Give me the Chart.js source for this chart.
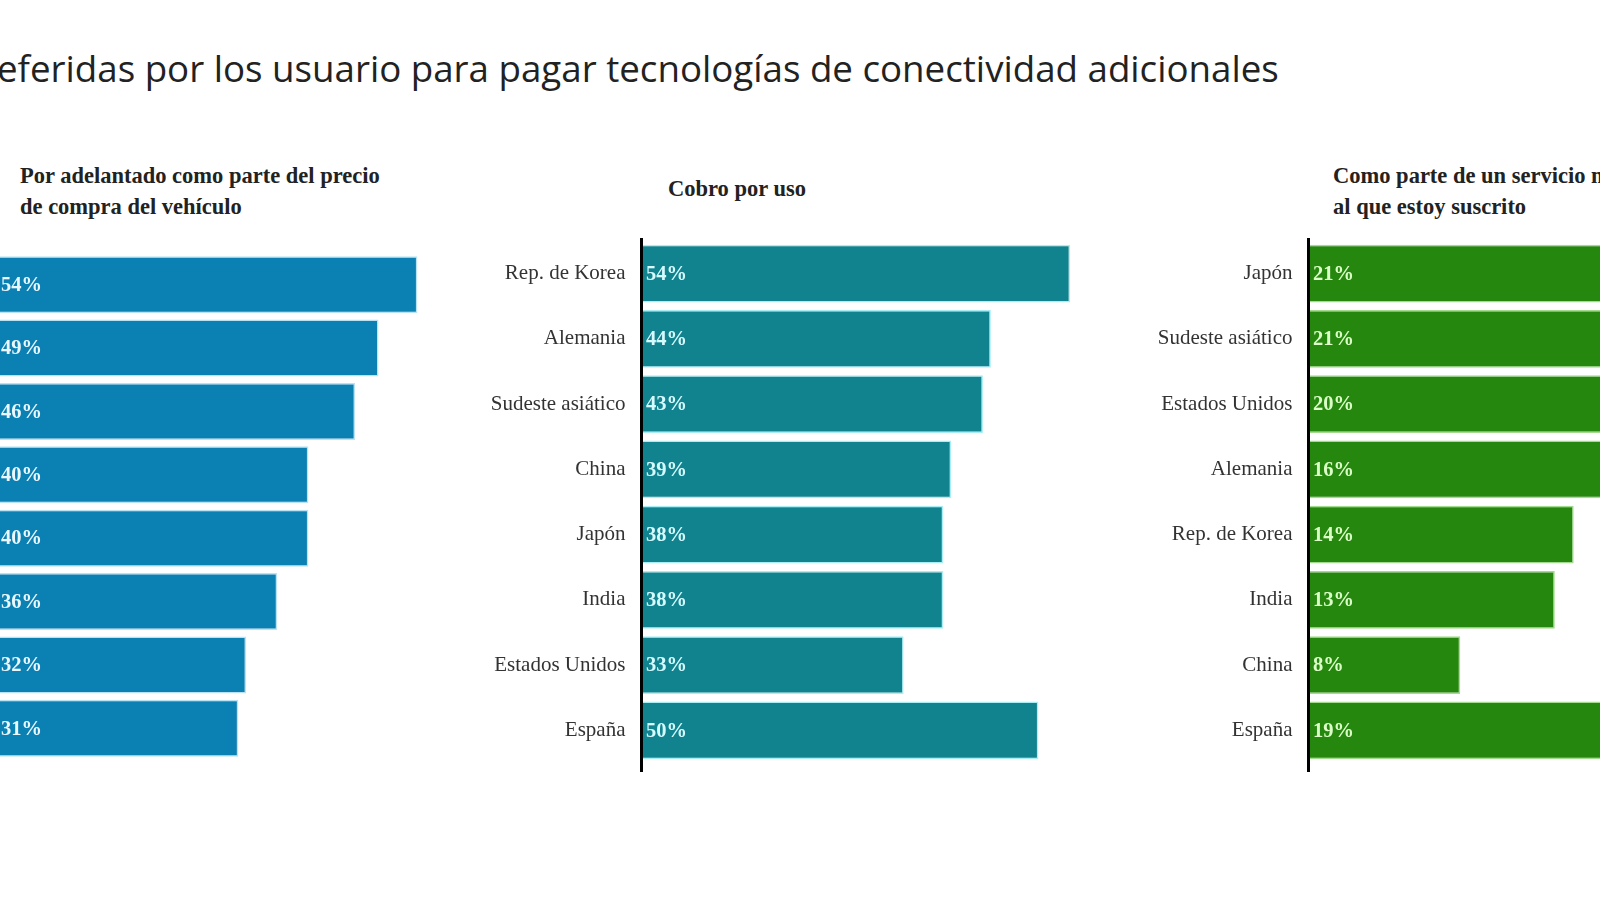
<!DOCTYPE html>
<html>
<head>
<meta charset="utf-8">
<script src="https://cdn.jsdelivr.net/npm/chart.js@4/dist/chart.umd.min.js"></script>
<style>
  html, body { margin:0; padding:0; background:#fff; }
  body { width:1600px; height:900px; overflow:hidden; position:relative; }
  #title { position:absolute; left:-3px; top:44px; font-family:"Open Sans", sans-serif; font-size:36.7px; color:#222; white-space:nowrap; line-height:48px; }
  #title .cut { position:absolute; right:100%; top:0; }
  .hdr { position:absolute; font-family:"Liberation Serif", "Times New Roman", serif; font-weight:bold; font-size:22.5px; line-height:31px; color:#222; white-space:nowrap; }
  canvas { position:absolute; }
</style>
</head>
<body>
<div id="title"><span class="cut">Formas de pago pr</span>eferidas por los usuario para pagar tecnologías de conectividad adicionales</div>
<div class="hdr" id="h1" style="left:20px; top:160px;">Por adelantado como parte del precio<br>de compra del vehículo</div>
<div class="hdr" id="h2" style="left:668px; top:173px;">Cobro por uso</div>
<div class="hdr" id="h3" style="left:1333px; top:160px;">Como parte de un servicio móvil<br>al que estoy suscrito</div>

<canvas id="c1" width="636" height="527" style="left:-203px; top:243px;"></canvas>
<canvas id="c2" width="644" height="542" style="left:442px; top:231px;"></canvas>
<canvas id="c3" width="633" height="542" style="left:1109px; top:231px;"></canvas>

<script>
// Panel 1: Por adelantado como parte del precio de compra del vehículo
const categories1 = ["China", "India", "Estados Unidos", "Japón", "Alemania", "Sudeste asiático", "Rep. de Korea", "España"];
const values1 = [54, 49, 46, 40, 40, 36, 32, 31];

// Panel 2: Cobro por uso
const categories2 = ["Rep. de Korea", "Alemania", "Sudeste asiático", "China", "Japón", "India", "Estados Unidos", "España"];
const values2 = [54, 44, 43, 39, 38, 38, 33, 50];

// Panel 3: Como parte de un servicio móvil al que estoy suscrito
const categories3 = ["Japón", "Sudeste asiático", "Estados Unidos", "Alemania", "Rep. de Korea", "India", "China", "España"];
const values3 = [21, 21, 20, 16, 14, 13, 8, 19];

const barLabels = {
  id: 'barLabels',
  afterDatasetsDraw(chart, args, opts) {
    const ctx = chart.ctx;
    const meta = chart.getDatasetMeta(0);
    const data = chart.data.datasets[0].data;
    ctx.save();
    ctx.font = opts.font;
    ctx.fillStyle = opts.color;
    ctx.textAlign = 'left';
    ctx.textBaseline = 'middle';
    meta.data.forEach((bar, i) => {
      ctx.fillText(data[i] + '%', bar.base + 4, bar.y + 1);
    });
    ctx.restore();
  }
};

// Vertical baseline at value 0, slightly longer than the category band
const zeroLine = {
  id: 'zeroLine',
  afterDatasetsDraw(chart, args, opts) {
    const ctx = chart.ctx;
    const x = Math.round(chart.scales.x.getPixelForValue(0)) - 0.5;
    const area = chart.chartArea;
    ctx.save();
    ctx.strokeStyle = '#000';
    ctx.lineWidth = 3;
    ctx.beginPath();
    ctx.moveTo(x, area.top - opts.extendTop);
    ctx.lineTo(x, area.bottom + opts.extendBottom);
    ctx.stroke();
    ctx.restore();
  }
};

function makeChart(id, labels, values, opt) {
  return new Chart(document.getElementById(id), {
    type: 'bar',
    data: {
      labels: labels,
      datasets: [{
        data: values,
        backgroundColor: opt.color,
        borderColor: opt.border,
        borderWidth: 1.5,
        borderSkipped: 'start',
        barPercentage: opt.barPct,
        categoryPercentage: 1.0
      }]
    },
    options: {
      indexAxis: 'y',
      responsive: false,
      maintainAspectRatio: false,
      animation: false,
      devicePixelRatio: 1,
      layout: { padding: { top: 10, bottom: 10, left: 0, right: 0 } },
      plugins: {
        legend: { display: false },
        tooltip: { enabled: false },
        title: { display: false },
        barLabels: { font: 'bold 20.5px "Liberation Serif", "Times New Roman", serif', color: opt.labelColor },
        zeroLine: { extendTop: 3, extendBottom: 9 }
      },
      scales: {
        x: { display: false, min: 0, max: opt.max },
        y: {
          type: 'category',
          grid: { display: false, drawTicks: false },
          border: { display: false },
          ticks: {
            padding: 16.5,
            color: '#333',
            font: { family: '"Liberation Serif", "Times New Roman", serif', size: 21 }
          },
          afterFit(axis) {
            axis.width = 200;
            axis.paddingTop = 0;
            axis.paddingBottom = 0;
          }
        }
      }
    },
    plugins: [zeroLine, barLabels]
  });
}

makeChart('c1', categories1, values1, { color: '#0b80b3', border: '#b9e2f4', labelColor: '#eaf7ff', barPct: 0.9, max: 56 });
makeChart('c2', categories2, values2, { color: '#10838e', border: '#a9eef4', labelColor: '#d6fbff', barPct: 0.885, max: 56 });
makeChart('c3', categories3, values3, { color: '#26870f', border: '#a3dc8e', labelColor: '#dcffc8', barPct: 0.885, max: 22.9 });
</script>
</body>
</html>
